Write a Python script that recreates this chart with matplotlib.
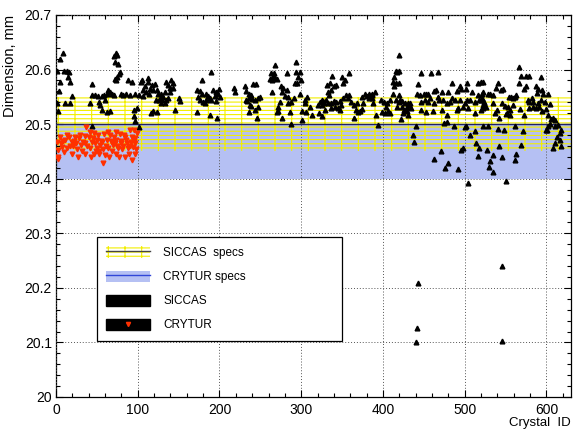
import matplotlib
matplotlib.use("Agg")
import matplotlib.pyplot as plt
from matplotlib.patches import Patch
from matplotlib.lines import Line2D
from matplotlib.ticker import MultipleLocator, FuncFormatter

plt.rcParams['font.family'] = ['Liberation Sans', 'DejaVu Sans']
plt.rcParams['hatch.linewidth'] = 0.8

# ---------------- data ----------------
siccas_pts = [
    (8,20.631),(5,20.619),(1,20.597),(10,20.597),(13,20.597),(16,20.596),(5,20.578),(15,20.586),(17,20.578),(4,20.561),(20,20.551),(1,20.539),(11,20.538),(17,20.538),(3,20.524),
    (73,20.630),(75,20.627),(71,20.625),(72,20.614),(76,20.611),(78,20.596),(77,20.592),(75,20.587),(72,20.582),(73,20.580),(44,20.573),(88,20.580),(93,20.578),(104,20.578),
    (64,20.562),(66,20.559),(62,20.556),(68,20.556),
    (44,20.554),(48,20.553),(51,20.551),(56,20.551),(59,20.553),(71,20.554),(80,20.556),(82,20.554),(86,20.555),(90,20.553),(97,20.556),(101,20.553),(106,20.551),
    (42,20.539),(52,20.541),(54,20.535),(60,20.544),(56,20.526),(62,20.523),(66,20.525),(95,20.526),(99,20.529),(97,20.506),(44,20.496),(96,20.515),(101,20.495),
    (190,20.595),(179,20.581),(112,20.584),(105,20.581),(113,20.578),(117,20.572),(121,20.573),(109,20.569),(115,20.565),(119,20.562),(107,20.562),(110,20.558),(114,20.556),
    (135,20.578),(141,20.581),(143,20.575),(137,20.572),(139,20.567),(143,20.567),(133,20.559),(139,20.558),
    (123,20.562),(125,20.556),(129,20.556),(128,20.550),(131,20.549),(130,20.545),(126,20.544),(122,20.545),(135,20.545),(129,20.538),(133,20.539),(137,20.547),
    (119,20.525),(116,20.521),(124,20.523),(145,20.526),(150,20.547),(152,20.543),
    (172,20.562),(176,20.561),(178,20.556),(174,20.550),(184,20.556),(186,20.551),(188,20.547),(192,20.562),(196,20.559),(199,20.565),(198,20.555),(194,20.551),(201,20.549),
    (176,20.544),(180,20.541),(182,20.538),(184,20.545),(190,20.545),(196,20.543),(173,20.523),(188,20.517),(197,20.512),
    (268,20.608),(294,20.614),(263,20.593),(267,20.594),(266,20.588),(262,20.582),(264,20.581),(268,20.584),(270,20.582),(282,20.593),(293,20.596),(298,20.596),(296,20.587),(295,20.575),(292,20.576),(300,20.581),
    (218,20.567),(231,20.569),(241,20.573),(245,20.573),(233,20.561),(236,20.555),(238,20.553),(232,20.545),(234,20.543),(236,20.547),(240,20.546),(243,20.545),(247,20.547),(250,20.549),(219,20.558),
    (237,20.535),(239,20.533),(243,20.526),(236,20.523),(247,20.531),(246,20.511),
    (264,20.559),(275,20.570),(278,20.567),(276,20.559),(282,20.562),(280,20.551),(284,20.549),(274,20.541),(272,20.532),(270,20.523),(271,20.525),(284,20.538),(286,20.523),(277,20.512),(287,20.500),(288,20.541),
    (291,20.547),(298,20.556),(304,20.544),(307,20.549),(304,20.538),(301,20.525),(306,20.523),(311,20.532),(313,20.517),(301,20.507),
    (359,20.594),(420,20.627),(338,20.588),(350,20.587),(353,20.581),(351,20.576),(335,20.575),(331,20.572),(340,20.569),(343,20.572),(337,20.562),(333,20.559),(334,20.554),
    (355,20.553),(359,20.553),(357,20.548),(351,20.547),(347,20.543),(343,20.541),(340,20.543),(330,20.545),(327,20.542),(325,20.545),(323,20.541),(321,20.535),(326,20.535),(328,20.538),(333,20.539),(336,20.538),
    (322,20.520),(325,20.515),(329,20.526),(337,20.529),(341,20.532),(345,20.529),(348,20.526),(349,20.535),
    (361,20.541),(364,20.535),(368,20.538),(364,20.512),(367,20.526),(370,20.523),(372,20.525),(374,20.527),(376,20.539),(374,20.550),(378,20.556),(381,20.551),(383,20.556),(386,20.556),(387,20.553),(390,20.558),
    (383,20.547),(386,20.547),(388,20.538),(392,20.517),(394,20.498),(397,20.545),(399,20.523),(402,20.521),(404,20.532),(406,20.525),(408,20.521),(401,20.541),(405,20.539),(409,20.544),
    (412,20.578),(414,20.587),(417,20.596),(414,20.569),(412,20.556),(416,20.544),(420,20.541),(417,20.532),
    (416,20.598),(419,20.598),(446,20.594),(459,20.593),(467,20.596),(416,20.576),(419,20.575),
    (443,20.573),(419,20.553),(442,20.556),(445,20.553),(450,20.556),(453,20.556),(455,20.555),(463,20.561),(465,20.562),(472,20.559),(480,20.558),(484,20.575),(490,20.561),(494,20.569),(496,20.564),(503,20.576),(501,20.565),(509,20.559),(516,20.553),(521,20.556),(522,20.578),(516,20.575),
    (427,20.538),(430,20.538),(433,20.538),(432,20.535),(429,20.532),(423,20.543),(421,20.545),(423,20.532),(426,20.526),(429,20.524),(434,20.529),(431,20.517),(425,20.520),(422,20.509),
    (447,20.541),(451,20.544),(455,20.541),(457,20.547),(463,20.538),(467,20.549),(469,20.545),(474,20.544),(478,20.538),(482,20.541),(484,20.547),(488,20.544),(494,20.545),(500,20.538),(503,20.544),(506,20.545),(512,20.541),(518,20.544),(521,20.547),(524,20.538),
    (447,20.526),(453,20.523),(461,20.525),(472,20.526),(478,20.517),(490,20.526),(492,20.529),(498,20.532),(504,20.529),(512,20.521),(520,20.526),
    (475,20.503),(478,20.504),(487,20.496),(502,20.496),(512,20.488),(440,20.496),(437,20.480),(438,20.468),(471,20.450),(463,20.437),(480,20.429),(476,20.419),(492,20.417),(498,20.456),(496,20.453),(500,20.494),(507,20.480),(514,20.466),(517,20.456),(516,20.442),(504,20.393),
    (566,20.605),(569,20.588),(575,20.588),(579,20.588),(593,20.586),(566,20.576),(520,20.578),(541,20.575),(538,20.567),(544,20.562),(547,20.564),(573,20.565),(575,20.569),(587,20.570),(590,20.565),(594,20.562),(588,20.557),(596,20.556),(602,20.556),(522,20.559),(529,20.555),(531,20.556),(535,20.553),(563,20.553),
    (554,20.550),(557,20.549),(559,20.547),(561,20.550),(577,20.545),(582,20.547),(584,20.541),(579,20.541),(590,20.539),(593,20.544),(598,20.541),(604,20.537),(520,20.544),(524,20.541),(522,20.535),(522,20.529),(526,20.532),(535,20.538),(545,20.538),(549,20.533),(553,20.532),(555,20.526),(559,20.535),(568,20.527),(552,20.521),(550,20.518),(555,20.517),(539,20.526),(537,20.521),(542,20.511),
    (579,20.529),(584,20.532),(587,20.529),(591,20.532),(595,20.525),(600,20.527),(572,20.517),(602,20.517),(608,20.512),(606,20.509),(610,20.507),(604,20.501),(602,20.496),(600,20.490),(610,20.496),(614,20.498),(618,20.489),(616,20.483),
    (522,20.496),(529,20.496),(541,20.492),(548,20.490),(562,20.496),(571,20.488),(601,20.490),(613,20.477),(616,20.471),(610,20.465),(608,20.456),(618,20.460),(542,20.460),(527,20.453),(531,20.433),(534,20.443),(530,20.421),(535,20.413),(545,20.439),(561,20.435),(563,20.446),(569,20.462),(550,20.395),
    (441,20.126),(440,20.100),(546,20.103),(443,20.209),(545,20.240),
]
siccas_id = [p[0] for p in siccas_pts]
siccas_dim = [p[1] for p in siccas_pts]

crytur_pts = [
    (37,20.494),(90,20.490),(5,20.477),(16,20.476),(23,20.477),(28,20.474),(35,20.478),(40,20.476),(47,20.484),(59,20.482),(66,20.480),(71,20.477),(78,20.482),(84,20.477),(93,20.477),(97,20.474),(99,20.483),
    (7,20.459),(13,20.456),(21,20.460),(31,20.462),(42,20.456),(50,20.457),(54,20.462),(64,20.456),(70,20.462),(76,20.456),(82,20.460),(88,20.456),(94,20.459),
    (3,20.452),(10,20.449),(19,20.446),(27,20.439),(35,20.445),(46,20.446),(52,20.451),(60,20.443),(74,20.446),(85,20.439),(97,20.446),(2,20.437),(58,20.429),
    (11,20.471),(19,20.468),(25,20.465),(33,20.468),(44,20.468),(50,20.471),(56,20.468),(62,20.471),(68,20.468),(74,20.471),(80,20.465),(86,20.471),(92,20.468),(97,20.465),(1,20.468),(48,20.465),
    (3,20.440),(6,20.465),(9,20.470),(14,20.480),(17,20.460),(22,20.470),(26,20.455),(29,20.480),(32,20.450),(36,20.465),(38,20.460),(41,20.485),(43,20.440),(45,20.475),(49,20.450),(51,20.480),
    (53,20.445),(55,20.470),(57,20.455),(61,20.460),(63,20.485),(65,20.440),(67,20.470),(69,20.450),(72,20.465),(73,20.485),(75,20.460),(77,20.440),(79,20.470),(81,20.455),(83,20.480),(87,20.465),
    (89,20.445),(91,20.460),(93,20.435),(95,20.470),(96,20.490),(98,20.455),
]
crytur_id = [p[0] for p in crytur_pts]
crytur_dim = [p[1] for p in crytur_pts]

siccas_spec = (20.45, 20.55)
crytur_spec = (20.40, 20.50)
x_range = (0, 630)
y_range = (20.0, 20.7)
legend_labels = ["SICCAS  specs", "CRYTUR specs", "SICCAS", "CRYTUR"]

# ---------------- figure ----------------
fig = plt.figure(figsize=(5.8, 4.3), dpi=100)
ax = fig.add_axes([56/580, 1-397/430, 515/580, 382/430])

blue = '#b5c0f3'
yellow = '#f2ee00'
ax.fill_between(x_range, crytur_spec[0], crytur_spec[1], facecolor=blue, edgecolor='none', zorder=1)
ax.fill_between(x_range, siccas_spec[0], siccas_spec[1], facecolor='none', edgecolor=yellow,
                hatch='----|', linewidth=0, zorder=1.2)
ax.axhline(20.5, color='#1e2266', lw=1.0, zorder=2.6)

ax.plot(siccas_id, siccas_dim, linestyle='none', marker='^', ms=3.4, color='black', zorder=3)
ax.plot(crytur_id, crytur_dim, linestyle='none', marker='v', ms=3.4, color='#ff3000', zorder=3)

ax.set_xlim(*x_range)
ax.set_ylim(*y_range)
ax.xaxis.set_major_locator(MultipleLocator(100))
ax.xaxis.set_minor_locator(MultipleLocator(20))
ax.yaxis.set_major_locator(MultipleLocator(0.1))
ax.yaxis.set_minor_locator(MultipleLocator(0.02))
ax.yaxis.set_major_formatter(FuncFormatter(lambda v, p: '%g' % round(v, 2)))
ax.tick_params(which='both', direction='in', top=True, right=True, labelsize=10, width=0.8)
ax.tick_params(which='major', length=5)
ax.tick_params(which='minor', length=2.6)
ax.tick_params(axis='x', pad=4)
ax.tick_params(axis='y', pad=3)
for s in ax.spines.values():
    s.set_linewidth(0.9)

ax.set_axisbelow(False)
ax.grid(True, which='major', color='#555555', linestyle=(0, (1, 2)), linewidth=0.7)

ax.set_ylabel('Dimension, mm', loc='top', fontsize=10.5)
ax.yaxis.set_label_coords(-0.075, 1.0)
ax.set_xlabel('Crystal  ID', loc='right', fontsize=9.5)
ax.xaxis.set_label_coords(1.0, -0.052)

h_sic_spec = (Patch(facecolor='white', edgecolor=yellow, hatch='----|', linewidth=0),
              Line2D([], [], color='#444444', lw=1.0))
h_cry_spec = (Patch(facecolor=blue, edgecolor='none'),
              Line2D([], [], color='#3046d8', lw=1.0))
h_sic = Patch(facecolor='black', edgecolor='black')
h_cry = (Patch(facecolor='black', edgecolor='black'),
         Line2D([], [], color='#ff3000', marker='v', ls='none', ms=3))

leg = ax.legend([h_sic_spec, h_cry_spec, h_sic, h_cry], legend_labels,
                loc='upper left', bbox_to_anchor=(0.0796, 0.154, 0.476, 0.265),
                mode='expand', borderaxespad=0, fontsize=8.5, fancybox=False,
                framealpha=1, edgecolor='black', handlelength=3.7, handleheight=1.1,
                handletextpad=1.1, labelspacing=0.97, borderpad=0.8)
leg.get_frame().set_linewidth(0.9)
leg.set_zorder(5)

fig.savefig('out.png', dpi=100)
